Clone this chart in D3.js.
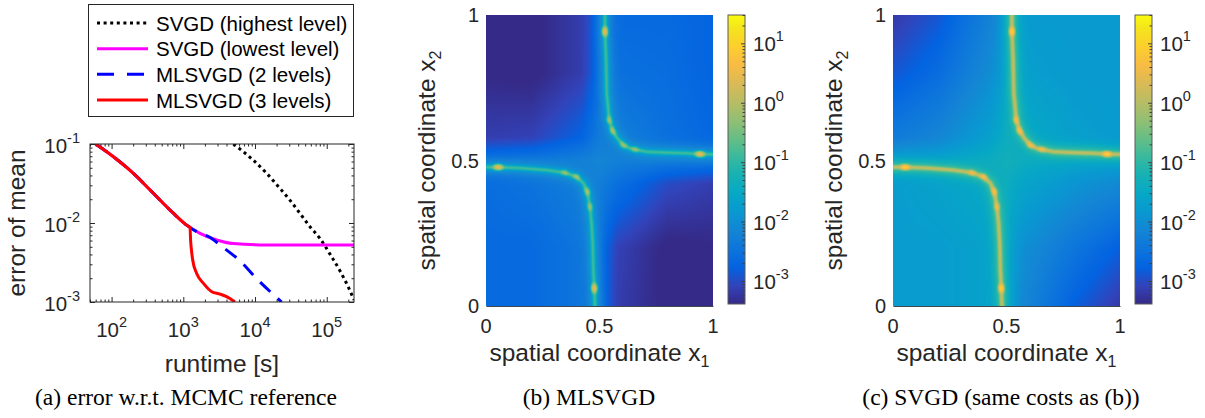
<!DOCTYPE html>
<html>
<head>
<meta charset="utf-8">
<script src="https://cdn.jsdelivr.net/npm/d3@7"></script>
<style>
  body { margin: 0; background: #fff; }
  svg { display: block; font-family: "Liberation Sans", Arial, sans-serif; }
</style>
</head>
<body>
<div id="chart"></div>
<script>
// ---------- panel (a): error vs runtime ----------
var legendNames = ["SVGD (highest level)", "SVGD (lowest level)", "MLSVGD (2 levels)", "MLSVGD (3 levels)"];

var runtimeHighest = [5000, 9400, 14500, 22200, 30600, 42200, 58200, 80200, 110000, 152000, 199000, 240000];
var errorHighest   = [0.1, 0.0627, 0.0426, 0.0275, 0.0195, 0.0133, 0.0090, 0.0064, 0.0041, 0.0025, 0.00156, 0.00106];

var runtimeLowest = [60, 106, 201, 382, 726, 1114, 1710, 2920, 4970, 14500, 42200, 240000];
var errorLowest   = [0.1, 0.069, 0.0426, 0.0238, 0.0133, 0.0094, 0.0074, 0.0061, 0.0055, 0.00527, 0.00525, 0.00525];

var runtime2Levels = [60, 106, 201, 382, 726, 1114, 1710, 2200, 3500, 6200, 11000, 23500];
var error2Levels   = [0.1, 0.069, 0.0426, 0.0238, 0.0133, 0.0094, 0.0074, 0.0068, 0.0050, 0.0033, 0.0019, 0.0010];

var runtime3Levels = [60, 106, 201, 382, 726, 1114, 1240, 1265, 1300, 1352, 1537, 1900, 2490, 3250, 4470, 5250];
var error3Levels   = [0.1, 0.069, 0.0426, 0.0238, 0.0133, 0.0094, 0.0088, 0.0060, 0.0045, 0.0034, 0.0023, 0.00173, 0.00135, 0.00126, 0.00111, 0.00100];

// ---------- panels (b), (c): log10 of the field ----------
// background grid, rows go x2 = gridPos (bottom to top), columns x1 = gridPos
var gridPos = [0, 0.2, 0.42, 0.5, 0.58, 0.8, 1];
var bgMLSVGD = [
  [-2.65, -2.65, -2.45, -2.7, -3.15, -3.45, -3.4],
  [-2.65, -2.65, -2.45, -2.65, -3.1, -3.45, -3.4],
  [-2.6, -2.5, -2.3, -2.3, -2.55, -3.0, -3.15],
  [-2.55, -2.45, -2.25, -2.15, -2.25, -2.4, -2.5],
  [-3.15, -3.1, -2.75, -2.35, -2.3, -2.55, -2.7],
  [-3.4, -3.45, -3.15, -2.75, -2.55, -2.6, -2.75],
  [-3.4, -3.45, -3.15, -2.85, -2.65, -2.65, -2.75]
];
var bgSVGD = [
  [-1.75, -1.75, -1.65, -1.75, -2.15, -2.8, -3.2],
  [-1.75, -1.75, -1.65, -1.65, -2.0, -2.45, -2.8],
  [-1.75, -1.65, -1.5, -1.4, -1.6, -1.9, -2.1],
  [-1.75, -1.65, -1.4, -1.3, -1.4, -1.6, -1.7],
  [-2.35, -2.15, -1.7, -1.4, -1.5, -1.7, -1.8],
  [-2.9, -2.6, -2.05, -1.8, -1.7, -1.8, -1.8],
  [-3.2, -2.9, -2.25, -2.0, -1.8, -1.8, -1.8]
];

// the two bright curves (same place in both panels)
var ridgeUpperX1 = [0.524, 0.524, 0.529, 0.532, 0.539, 0.543, 0.558, 0.579, 0.605, 0.634, 0.656, 0.708, 0.796, 0.884, 0.943, 1.0];
var ridgeUpperX2 = [1.0, 0.943, 0.845, 0.731, 0.674, 0.639, 0.602, 0.576, 0.553, 0.542, 0.538, 0.530, 0.527, 0.525, 0.522, 0.521];
var ridgeLowerX1 = [0, 0.054, 0.150, 0.267, 0.348, 0.399, 0.429, 0.446, 0.458, 0.465, 0.470, 0.473, 0.477, 0.480];
var ridgeLowerX2 = [0.477, 0.477, 0.474, 0.467, 0.458, 0.444, 0.422, 0.393, 0.341, 0.284, 0.215, 0.124, 0.061, 0];
var spotUpperIdx = [1, 5, 6, 8, 10, 14];
var spotLowerIdx = [1, 4, 5, 7, 8, 12];

var ridgeMLSVGD = -1.0;
var spotUpperMLSVGD = [0.4, -0.3, -0.2, -0.3, -0.4, 0.4];
var spotLowerMLSVGD = [0.4, -0.4, -0.3, -0.2, -0.4, 0.4];
var ridgeSVGD = -0.05;
var spotUpperSVGD = [0.9, 0.5, 0.6, 0.5, 0.4, 0.9];
var spotLowerSVGD = [0.9, 0.4, 0.5, 0.6, 0.4, 0.9];

var colorTicks = [1e-3, 1e-2, 1e-1, 1e0, 1e1];

// parula colour map
var parulaStops = ["#352a87", "#3243ba", "#0363e1", "#0d75dc", "#1485d4", "#0998d1", "#06a7c6", "#15b1b4",
                   "#38b99e", "#65be86", "#92bf73", "#b7bd64", "#d9ba56", "#f8bb44", "#fcce2e", "#f5e41d", "#f9fb0e"];
var parula = d3.scaleLinear()
    .domain(parulaStops.map(function(d, i) { return Math.min(i * 4, 63) / 63; }))
    .range(parulaStops)
    .interpolate(d3.interpolateRgb)
    .clamp(true);
var colorScale = d3.scaleSequentialLog(parula).domain([4.1e-4, 30]).clamp(true);

var ink = "#262626";
var svg = d3.select("#chart").append("svg").attr("width", 1205).attr("height", 418);
svg.append("rect").attr("width", 1205).attr("height", 418).attr("fill", "#fff");

function sup(sel, base, exp, size, dy) {
    sel.text(base);
    sel.append("tspan").attr("dy", dy).attr("font-size", size).text(exp);
}
var isMajor = function(v) { return Math.abs(Math.log10(v) - Math.round(Math.log10(v))) < 1e-9; };
var serif = "'Liberation Serif', 'Times New Roman', serif";

// ================= panel (a) =================
var xA = d3.scaleLog().domain([50, 2.4e5]).range([90, 354]);
var yA = d3.scaleLog().domain([1e-3, 1e-1]).range([302, 144]);
var gA = svg.append("g");

gA.append("clipPath").attr("id", "clipA").append("rect")
    .attr("x", 90).attr("y", 144).attr("width", 264).attr("height", 158);

var xTicks = xA.ticks(), yTicks = yA.ticks();
function ticks(fn, scale, tr, vals) {
    gA.append("g").attr("transform", tr)
        .call(fn(scale).tickValues(vals.filter(function(v) { return !isMajor(v); })).tickSize(-2.5).tickFormat(""))
        .call(function(g) { g.select(".domain").remove(); g.selectAll("line").attr("stroke", ink); });
    gA.append("g").attr("transform", tr)
        .call(fn(scale).tickValues(vals.filter(isMajor)).tickSize(-5).tickFormat(""))
        .call(function(g) { g.select(".domain").remove(); g.selectAll("line").attr("stroke", ink); });
}
ticks(d3.axisBottom, xA, "translate(0,302)", xTicks);
ticks(d3.axisTop, xA, "translate(0,144)", xTicks);
ticks(d3.axisLeft, yA, "translate(90,0)", yTicks);
ticks(d3.axisRight, yA, "translate(354,0)", yTicks);

var series = [
    {t: runtimeHighest, e: errorHighest, color: "#000000", dash: "3,3.6"},
    {t: runtimeLowest, e: errorLowest, color: "#ff00ff", dash: null},
    {t: runtime2Levels, e: error2Levels, color: "#0000ff", dash: "14,10"},
    {t: runtime3Levels, e: error3Levels, color: "#ff0000", dash: null}
];
var line = d3.line().x(function(d) { return xA(d[0]); }).y(function(d) { return yA(d[1]); }).curve(d3.curveMonotoneX);
gA.append("g").attr("clip-path", "url(#clipA)")
    .selectAll("path").data(series).join("path")
    .attr("d", function(s) { return line(d3.zip(s.t, s.e)); })
    .attr("fill", "none")
    .attr("stroke", function(s) { return s.color; })
    .attr("stroke-width", 3)
    .attr("stroke-dasharray", function(s) { return s.dash; });

gA.append("rect").attr("x", 90).attr("y", 144).attr("width", 264).attr("height", 158)
    .attr("fill", "none").attr("stroke", ink).attr("stroke-width", 1);

gA.selectAll(".xl").data(xTicks.filter(isMajor)).join("text")
    .attr("x", function(d) { return xA(d); }).attr("y", 337)
    .attr("text-anchor", "middle").attr("font-size", 20.5).attr("fill", ink)
    .each(function(d) { sup(d3.select(this), "10", Math.round(Math.log10(d)), 14.5, -10); });
gA.selectAll(".yl").data(yTicks.filter(isMajor)).join("text")
    .attr("x", 80).attr("y", function(d) { return yA(d) + 9; })
    .attr("text-anchor", "end").attr("font-size", 20.5).attr("fill", ink)
    .each(function(d) { sup(d3.select(this), "10", Math.round(Math.log10(d)), 14.5, -10); });

gA.append("text").attr("transform", "translate(25,223) rotate(-90)")
    .attr("text-anchor", "middle").attr("font-size", 24.5).attr("fill", ink).text("error of mean");
gA.append("text").attr("x", 222).attr("y", 372)
    .attr("text-anchor", "middle").attr("font-size", 24.5).attr("fill", ink).text("runtime [s]");

// legend
var lg = gA.append("g");
lg.append("rect").attr("x", 88.5).attr("y", 4.5).attr("width", 265).attr("height", 112)
    .attr("fill", "#fff").attr("stroke", ink).attr("stroke-width", 1);
var rowY = d3.scalePoint().domain(legendNames).range([23, 100]);
var rows = lg.selectAll(".row").data(series).join("g")
    .attr("transform", function(s, i) { return "translate(0," + rowY(legendNames[i]) + ")"; });
rows.append("line").attr("x1", 97).attr("x2", 148)
    .attr("stroke", function(s) { return s.color; }).attr("stroke-width", 3)
    .attr("stroke-dasharray", function(s, i) { return i === 2 ? "17,13" : s.dash; });
rows.append("text").attr("x", 156).attr("y", 7.5).attr("font-size", 20.5).attr("fill", "#000")
    .text(function(s, i) { return legendNames[i]; });

svg.append("text").attr("x", 186).attr("y", 405).attr("text-anchor", "middle")
    .attr("font-family", serif).attr("font-size", 23.5)
    .attr("fill", "#000").text("(a) error w.r.t. MCMC reference");

// ================= panels (b) and (c) =================
function bilinear(grid, x1, x2) {
    var n = gridPos.length;
    var i = Math.max(0, Math.min(n - 2, d3.bisectRight(gridPos, x1) - 1));
    var j = Math.max(0, Math.min(n - 2, d3.bisectRight(gridPos, x2) - 1));
    var tx = (x1 - gridPos[i]) / (gridPos[i + 1] - gridPos[i]);
    var ty = (x2 - gridPos[j]) / (gridPos[j + 1] - gridPos[j]);
    var a = grid[j][i] * (1 - tx) + grid[j][i + 1] * tx;
    var b = grid[j + 1][i] * (1 - tx) + grid[j + 1][i + 1] * tx;
    return a * (1 - ty) + b * ty;
}

function prepRidge(xs, ys, rx, ry, spotIdx, spotVals) {
    var pts = rx.map(function(v, i) { return [xs(v), ys(ry[i])]; });
    var cum = [0];
    for (var k = 1; k < pts.length; k++) {
        cum.push(cum[k - 1] + Math.hypot(pts[k][0] - pts[k - 1][0], pts[k][1] - pts[k - 1][1]));
    }
    return {pts: pts, cum: cum, spotS: spotIdx.map(function(k) { return cum[k]; }), spotV: spotVals};
}

function nearest(r, px, py) {
    var best = Infinity, bestS = 0;
    for (var k = 0; k < r.pts.length - 1; k++) {
        var ax = r.pts[k][0], ay = r.pts[k][1];
        var dx = r.pts[k + 1][0] - ax, dy = r.pts[k + 1][1] - ay;
        var L2 = dx * dx + dy * dy;
        var t = Math.max(0, Math.min(1, ((px - ax) * dx + (py - ay) * dy) / L2));
        var qx = ax + t * dx - px, qy = ay + t * dy - py;
        var d2 = qx * qx + qy * qy;
        if (d2 < best) { best = d2; bestS = r.cum[k] + t * Math.sqrt(L2); }
    }
    return [Math.sqrt(best), bestS];
}

function heatPanel(x0, bg, ridgePeak, spotsUp, spotsLow, cbX, caption, capX) {
    var xs = d3.scaleLinear().domain([0, 1]).range([x0, x0 + 227]);
    var ys = d3.scaleLinear().domain([0, 1]).range([306, 15]);
    var g = svg.append("g");
    var W = Math.round(xs(1) - xs(0)), H = Math.round(ys(0) - ys(1));
    var ridges = [
        prepRidge(xs, ys, ridgeUpperX1, ridgeUpperX2, spotUpperIdx, spotsUp),
        prepRidge(xs, ys, ridgeLowerX1, ridgeLowerX2, spotLowerIdx, spotsLow)
    ];
    var canvas = document.createElement("canvas");
    canvas.width = W; canvas.height = H;
    var ctx = canvas.getContext("2d");
    var img = ctx.createImageData(W, H);
    var w = 1.5, spotLen = 3.2;
    for (var r = 0; r < H; r++) {
        for (var c = 0; c < W; c++) {
            var px = xs(0) + c + 0.5, py = ys(1) + r + 0.5;
            var x1 = xs.invert(px), x2 = ys.invert(py);
            var val = Math.pow(10, bilinear(bg, x1, x2));
            ridges.forEach(function(rd) {
                var ns = nearest(rd, px, py), d = ns[0];
                if (d > 30) return;
                var core = Math.exp(-(d / w) * (d / w));
                val += Math.pow(10, ridgePeak) * (core + 0.3 * Math.exp(-d / 3.0));
                rd.spotS.forEach(function(s, k) {
                    var u = (ns[1] - s) / spotLen;
                    val += Math.pow(10, rd.spotV[k]) * Math.exp(-u * u) * Math.exp(-(d / 1.8) * (d / 1.8));
                });
            });
            var col = d3.rgb(colorScale(val));
            var o = (r * W + c) * 4;
            img.data[o] = col.r; img.data[o + 1] = col.g; img.data[o + 2] = col.b; img.data[o + 3] = 255;
        }
    }
    ctx.putImageData(img, 0, 0);
    g.append("image").attr("href", canvas.toDataURL())
        .attr("x", xs(0)).attr("y", ys(1)).attr("width", W).attr("height", H)
        .attr("preserveAspectRatio", "none");

    g.append("g").attr("transform", "translate(0," + ys(0) + ")")
        .call(d3.axisBottom(xs).tickValues([]).tickSizeOuter(0))
        .call(function(a) { a.select(".domain").attr("stroke", "#404850").attr("stroke-width", 1); });

    [0, 0.5, 1].forEach(function(v) {
        g.append("text").attr("x", xs(v)).attr("y", 333).attr("text-anchor", "middle")
            .attr("font-size", 20).attr("fill", ink).text(v);
        g.append("text").attr("x", xs(0) - 7).attr("y", ys(v) + 7).attr("text-anchor", "end")
            .attr("font-size", 20).attr("fill", ink).text(v);
    });
    var xl = g.append("text").attr("x", (xs(0) + xs(1)) / 2).attr("y", 361).attr("text-anchor", "middle")
        .attr("font-size", 24.5).attr("fill", ink).text("spatial coordinate x");
    xl.append("tspan").attr("dy", 6).attr("font-size", 16).text("1");
    var yl = g.append("text").attr("transform", "translate(" + (xs(0) - 51) + "," + ((ys(0) + ys(1)) / 2) + ") rotate(-90)")
        .attr("text-anchor", "middle").attr("font-size", 24.5).attr("fill", ink).text("spatial coordinate x");
    yl.append("tspan").attr("dy", 6).attr("font-size", 16).text("2");

    // colourbar
    var cy = d3.scaleLog().domain(colorScale.domain()).range([304, 15]);
    var gid = "grad" + x0;
    var grad = svg.append("defs").append("linearGradient").attr("id", gid)
        .attr("x1", 0).attr("y1", 1).attr("x2", 0).attr("y2", 0);
    d3.range(65).forEach(function(i) {
        var f = i / 64;
        grad.append("stop").attr("offset", f)
            .attr("stop-color", colorScale(cy.invert(304 - f * 289)));
    });
    g.append("rect").attr("x", cbX).attr("y", 15).attr("width", 17).attr("height", 289)
        .attr("fill", "url(#" + gid + ")").attr("stroke", "#5a5a5a").attr("stroke-width", 1);
    var cTicks = cy.ticks();
    g.append("g").attr("transform", "translate(" + (cbX + 17) + ",0)")
        .call(d3.axisLeft(cy).tickValues(cTicks.filter(function(v) { return !isMajor(v); })).tickSize(2.5).tickFormat(""))
        .call(function(a) { a.select(".domain").remove(); a.selectAll("line").attr("stroke", "#404040"); });
    g.append("g").attr("transform", "translate(" + (cbX + 17) + ",0)")
        .call(d3.axisLeft(cy).tickValues(colorTicks).tickSize(4).tickFormat(""))
        .call(function(a) { a.select(".domain").remove(); a.selectAll("line").attr("stroke", "#404040"); });
    g.selectAll(".cl").data(colorTicks).join("text")
        .attr("x", cbX + 25).attr("y", function(d) { return cy(d) + 8; })
        .attr("font-size", 20.5).attr("fill", ink)
        .each(function(d) { sup(d3.select(this), "10", Math.round(Math.log10(d)), 14.5, -10); });

    svg.append("text").attr("x", capX).attr("y", 405).attr("text-anchor", "middle")
        .attr("font-family", serif).attr("font-size", 23.5)
        .attr("fill", "#000").text(caption);
}

heatPanel(486, bgMLSVGD, ridgeMLSVGD, spotUpperMLSVGD, spotLowerMLSVGD, 728, "(b) MLSVGD", 589);
heatPanel(893, bgSVGD, ridgeSVGD, spotUpperSVGD, spotLowerSVGD, 1135, "(c) SVGD (same costs as (b))", 1001);
</script>
</body>
</html>
